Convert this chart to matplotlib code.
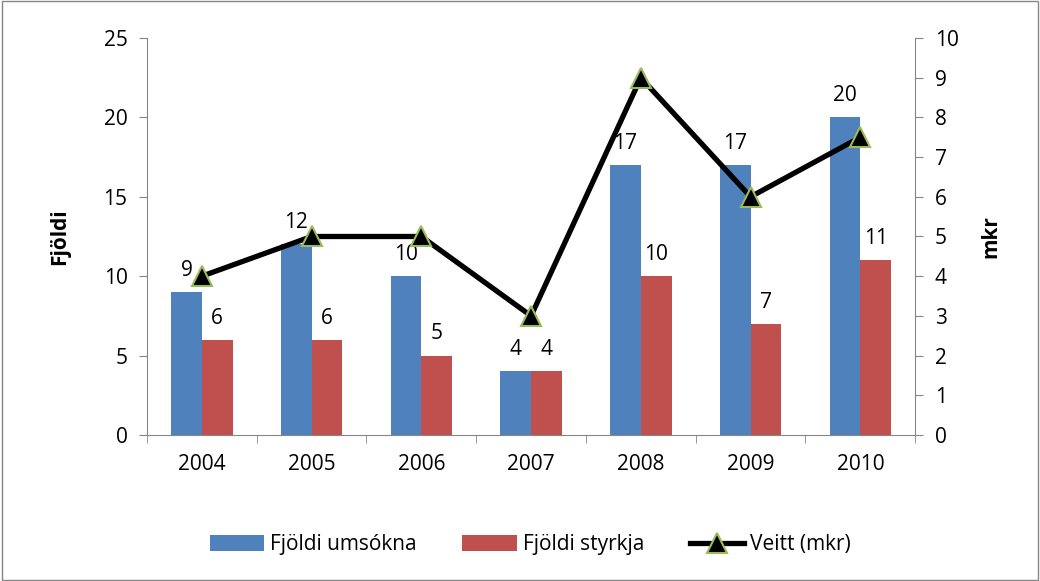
import numpy as np
import matplotlib
matplotlib.use('Agg')
import matplotlib.pyplot as plt
from matplotlib.patches import Rectangle

plt.rcParams['font.family'] = ['Open Sans', 'DejaVu Sans']

years = ['2004', '2005', '2006', '2007', '2008', '2009', '2010']
umsokna = [9, 12, 10, 4, 17, 17, 20]
styrkja = [6, 6, 5, 4, 10, 7, 11]
veitt = [4, 5, 5, 3, 9, 6, 7.5]

blue = '#4F81BD'
red = '#C0504D'
green = '#9BBB59'
axcol = '#868686'
fs = 15

fig = plt.figure(figsize=(10.4, 5.81), dpi=100)
ax = fig.add_axes([0.1413, 0.2513, 0.7387, 0.6833])
ax2 = ax.twinx()

x = np.arange(len(years))
w = 0.28
b1 = ax.bar(x - w/2, umsokna, w, color=blue, label='Fjöldi umsókna')
b2 = ax.bar(x + w/2, styrkja, w, color=red, label='Fjöldi styrkja')
for xi, v in zip(x - w/2, umsokna):
	ax.annotate(str(v), (xi, v), xytext=(0, 8), textcoords='offset points', ha='center', va='bottom', fontsize=fs)
for xi, v in zip(x + w/2, styrkja):
	ax.annotate(str(v), (xi, v), xytext=(0, 8), textcoords='offset points', ha='center', va='bottom', fontsize=fs)

ln, = ax2.plot(x, veitt, color='black', lw=3.8, marker='^', markersize=14,
	markerfacecolor='black', markeredgecolor=green, markeredgewidth=1.5, label='Veitt (mkr)')

ax.set_xlim(-0.5, 6.5)
ax.set_ylim(0, 25)
ax2.set_ylim(0, 10)
ax.set_yticks(range(0, 26, 5))
ax2.set_yticks(range(0, 11))
ax.set_xticks(x)
ax.set_xticklabels(years)
ax.set_xticks(np.arange(-0.5, 7, 1), minor=True)
ax.tick_params(axis='x', which='major', length=0, pad=14, labelsize=fs)
ax.tick_params(axis='x', which='minor', length=6, color=axcol, direction='out')
ax.tick_params(axis='y', length=6, color=axcol, labelsize=fs, pad=8)
ax2.tick_params(axis='y', length=6, color=axcol, labelsize=fs, pad=8)

for a in (ax, ax2):
	a.spines['top'].set_visible(False)
	for s in ('left', 'right', 'bottom'):
		a.spines[s].set_color(axcol)
ax.spines['right'].set_visible(False)
ax2.spines['left'].set_visible(False)
ax2.spines['bottom'].set_visible(False)

ax.set_ylabel('Fjöldi', fontsize=fs, fontweight='bold', labelpad=24)
ax2.set_ylabel('mkr', fontsize=fs, fontweight='bold', labelpad=16)

fig.legend([b1, b2, ln], ['Fjöldi umsókna', 'Fjöldi styrkja', 'Veitt (mkr)'],
	loc='center', bbox_to_anchor=(0.51, 0.062), ncol=3, frameon=False, fontsize=fs,
	handlelength=2.6, handleheight=0.8, handletextpad=0.3, columnspacing=2.2)

fig.patches.append(Rectangle((0.002, 0.002), 0.996, 0.996, transform=fig.transFigure,
	fill=False, edgecolor=axcol, lw=1))

fig.savefig('out.png', dpi=100)
